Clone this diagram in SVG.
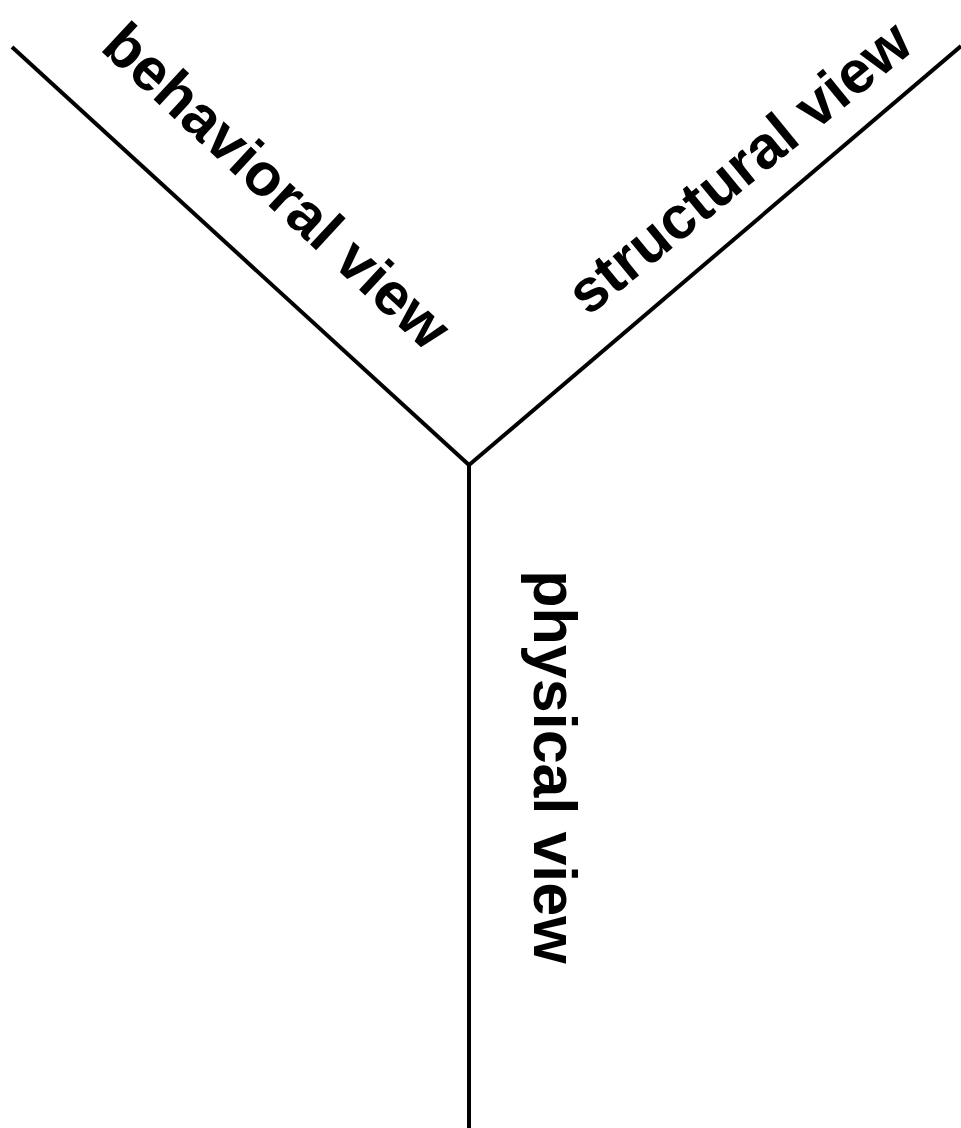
<svg xmlns="http://www.w3.org/2000/svg" width="961" height="1128" viewBox="0 0 961 1128">
<style>
.ln{stroke:#000;stroke-width:4;fill:none}
.lbl{font-family:"Liberation Sans",Arial,sans-serif;font-weight:bold;font-size:60px;fill:#000;text-anchor:middle}
</style>
<rect width="961" height="1128" fill="#fff"/>
<g id="connectors">
<line class="ln" x1="12" y1="47" x2="469" y2="465"/>
<line class="ln" x1="961" y1="46" x2="469" y2="465"/>
<line class="ln" x1="469" y1="465" x2="469" y2="1128"/>
</g>
<g id="behavioral"><text class="lbl" transform="translate(263,201) rotate(42.8)">behavioral view</text></g>
<g id="structural"><text class="lbl" transform="translate(752,183) rotate(-39.3)">structural view</text></g>
<g id="physical"><text class="lbl" style="font-size:61px" transform="translate(534,767) rotate(90)">physical view</text></g>
</svg>
